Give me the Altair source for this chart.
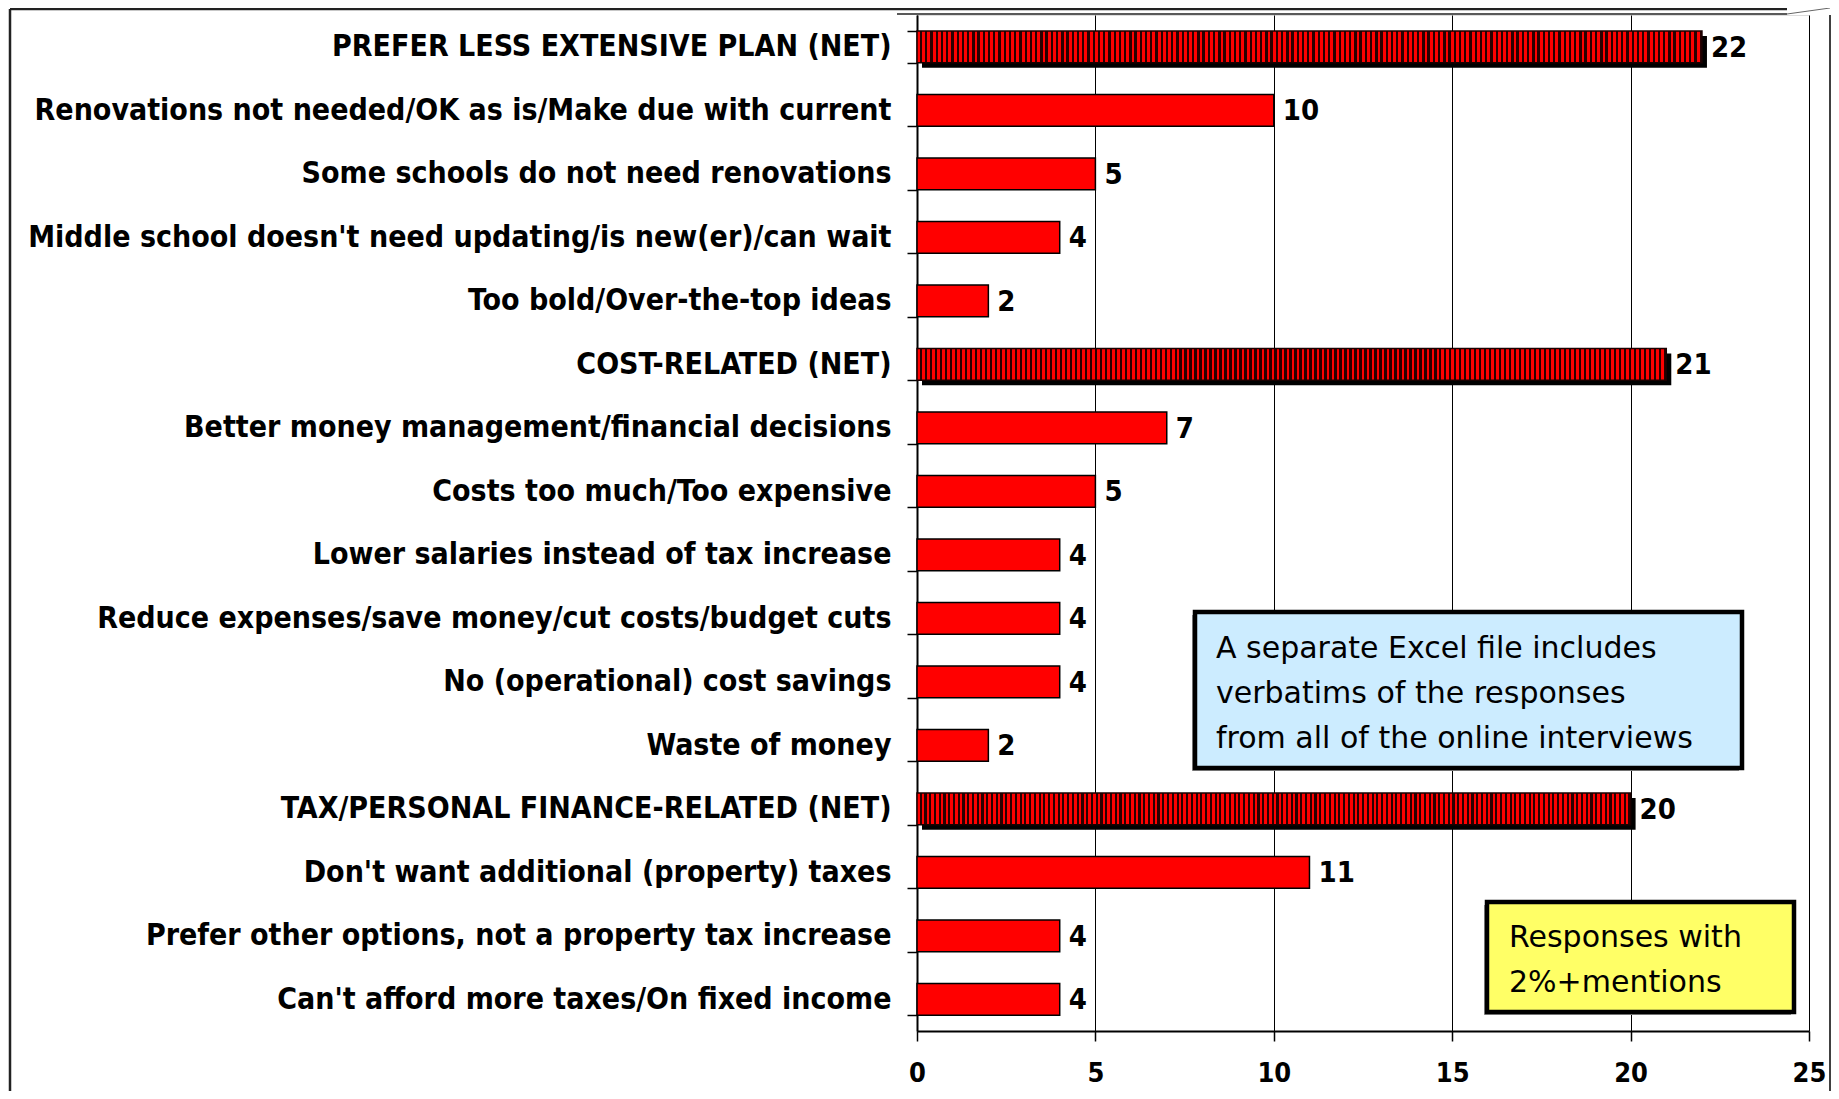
import altair as alt
import pandas as pd

categories = [
    "PREFER LESS EXTENSIVE PLAN (NET)",
    "Renovations not needed/OK as is/Make due with current",
    "Some schools do not need renovations",
    "Middle school doesn't need updating/is new(er)/can wait",
    "Too bold/Over-the-top ideas",
    "COST-RELATED (NET)",
    "Better money management/financial decisions",
    "Costs too much/Too expensive",
    "Lower salaries instead of tax increase",
    "Reduce expenses/save money/cut costs/budget cuts",
    "No (operational) cost savings",
    "Waste of money",
    "TAX/PERSONAL FINANCE-RELATED (NET)",
    "Don't want additional (property) taxes",
    "Prefer other options, not a property tax increase",
    "Can't afford more taxes/On fixed income",
]
values = [22, 10, 5, 4, 2, 21, 7, 5, 4, 4, 4, 2, 20, 11, 4, 4]
is_net = [True, False, False, False, False, True, False, False, False, False, False, False, True, False, False, False]
x_ticks = [0, 5, 10, 15, 20, 25]

note_blue = ["A separate Excel file includes", "verbatims of the responses", "from all of the online interviews"]
note_yellow = ["Responses with", "2%+mentions"]

df = pd.DataFrame({"category": categories, "value": values, "net": is_net})
one = pd.DataFrame({"k": [0]})

W, H = 892, 1016
LABEL_FONT = "Liberation Sans Narrow, Arial Narrow, DejaVu Sans Condensed, sans-serif"
BOX_FONT = "DejaVu Sans, Noto Sans, sans-serif"

# striped fill for NET bars
red, dark = "#FF0000", "#2a0000"
stops = []
n = 150
for i in range(n):
    a, b, c = i / n, (i + 0.55) / n, (i + 1) / n
    stops += [
        alt.GradientStop(offset=a, color=red),
        alt.GradientStop(offset=b, color=red),
        alt.GradientStop(offset=b, color=dark),
        alt.GradientStop(offset=c, color=dark),
    ]
stripes = alt.LinearGradient(gradient="linear", stops=stops, x1=0, x2=1, y1=0, y2=0)

xs = alt.Scale(domain=[0, 25], nice=False, zero=True)
ys = alt.Scale(paddingInner=0.5, paddingOuter=0.25)

base = alt.Chart(df)
X = alt.X("value:Q", scale=xs, axis=alt.Axis(
    values=x_ticks, grid=True, gridColor="black", gridWidth=1, gridOpacity=1,
    domainColor="black", domainWidth=2, tickColor="black", tickWidth=1.5, tickSize=10,
    labelFont=LABEL_FONT, labelFontSize=27, labelFontWeight="bold", labelColor="black",
    labelPadding=19, title=None, labelFlush=False))
Y = alt.Y("category:N", sort=categories, scale=ys, axis=alt.Axis(
    title=None, domainColor="black", domainWidth=2, tickColor="black", tickWidth=1.5,
    tickSize=10, tickBand="extent", labelFont=LABEL_FONT, labelFontSize=30,
    labelFontWeight="bold", labelColor="black", labelPadding=16, labelLimit=0))

shadow = base.transform_filter("datum.net").mark_bar(
    color="black", xOffset=5, x2Offset=5, yOffset=5, y2Offset=5
).encode(x=X, y=Y)

net_bars = base.transform_filter("datum.net").mark_bar(
    fill=stripes, stroke="#1a0000", strokeWidth=1.5
).encode(x=X, y=Y)

bars = base.transform_filter("!datum.net").mark_bar(
    fill=red, stroke="black", strokeWidth=1.5
).encode(x=X, y=Y)

labels = base.mark_text(
    align="left", baseline="middle", dx=9, dy=1, font=LABEL_FONT, fontSize=29,
    fontWeight="bold", color="black"
).encode(x=X, y=Y, text="value:Q")

def box(x1, x2, y1, y2, fill):
    sh = alt.Chart(one).mark_rect(fill="#999999").encode(
        x=alt.value(x1 - 3), x2=alt.value(x2 - 3), y=alt.value(y1 + 3), y2=alt.value(y2 + 3))
    bx = alt.Chart(one).mark_rect(fill=fill, stroke="black", strokeWidth=4.5).encode(
        x=alt.value(x1), x2=alt.value(x2), y=alt.value(y1), y2=alt.value(y2))
    return sh + bx

blue_box = box(278, 825, 597, 753, "#CCECFF")
blue_text = alt.Chart(one).mark_text(
    text=note_blue, align="left", baseline="middle", font=BOX_FONT, fontSize=30,
    lineHeight=45, color="black"
).encode(x=alt.value(299), y=alt.value(634))

yellow_box = box(570, 877, 887, 997, "#FFFF66")
yellow_text = alt.Chart(one).mark_text(
    text=note_yellow, align="left", baseline="middle", font=BOX_FONT, fontSize=30,
    lineHeight=45, color="black"
).encode(x=alt.value(592), y=alt.value(923))

def rule(x1, y1, x2, y2, w=2, c="black"):
    return alt.Chart(one).mark_rule(color=c, strokeWidth=w).encode(
        x=alt.value(x1), y=alt.value(y1), x2=alt.value(x2), y2=alt.value(y2))

frame = (
    rule(-907, -6, -907, 1080, 2.5, "#222222")
    + rule(-907, -6, 870, -6, 2.5, "#222222")
    + rule(-20, -1, 870, -1, 1.5, "#222222")
    + rule(870, -1, 913, -7, 1, "#666666")
    + rule(913, 0, 913, 1080, 1.5, "black")
)

chart = alt.layer(
    shadow, net_bars, bars, labels, blue_box, blue_text, yellow_box, yellow_text, frame
).properties(
    width=W, height=H,
    autosize=alt.AutoSizeParams(type="none"),
    padding={"left": 909, "top": 7, "right": 22, "bottom": 60},
).configure_view(stroke=None).configure(background="white")

chart.save("out.html", embed_options={"renderer": "svg", "actions": False})
